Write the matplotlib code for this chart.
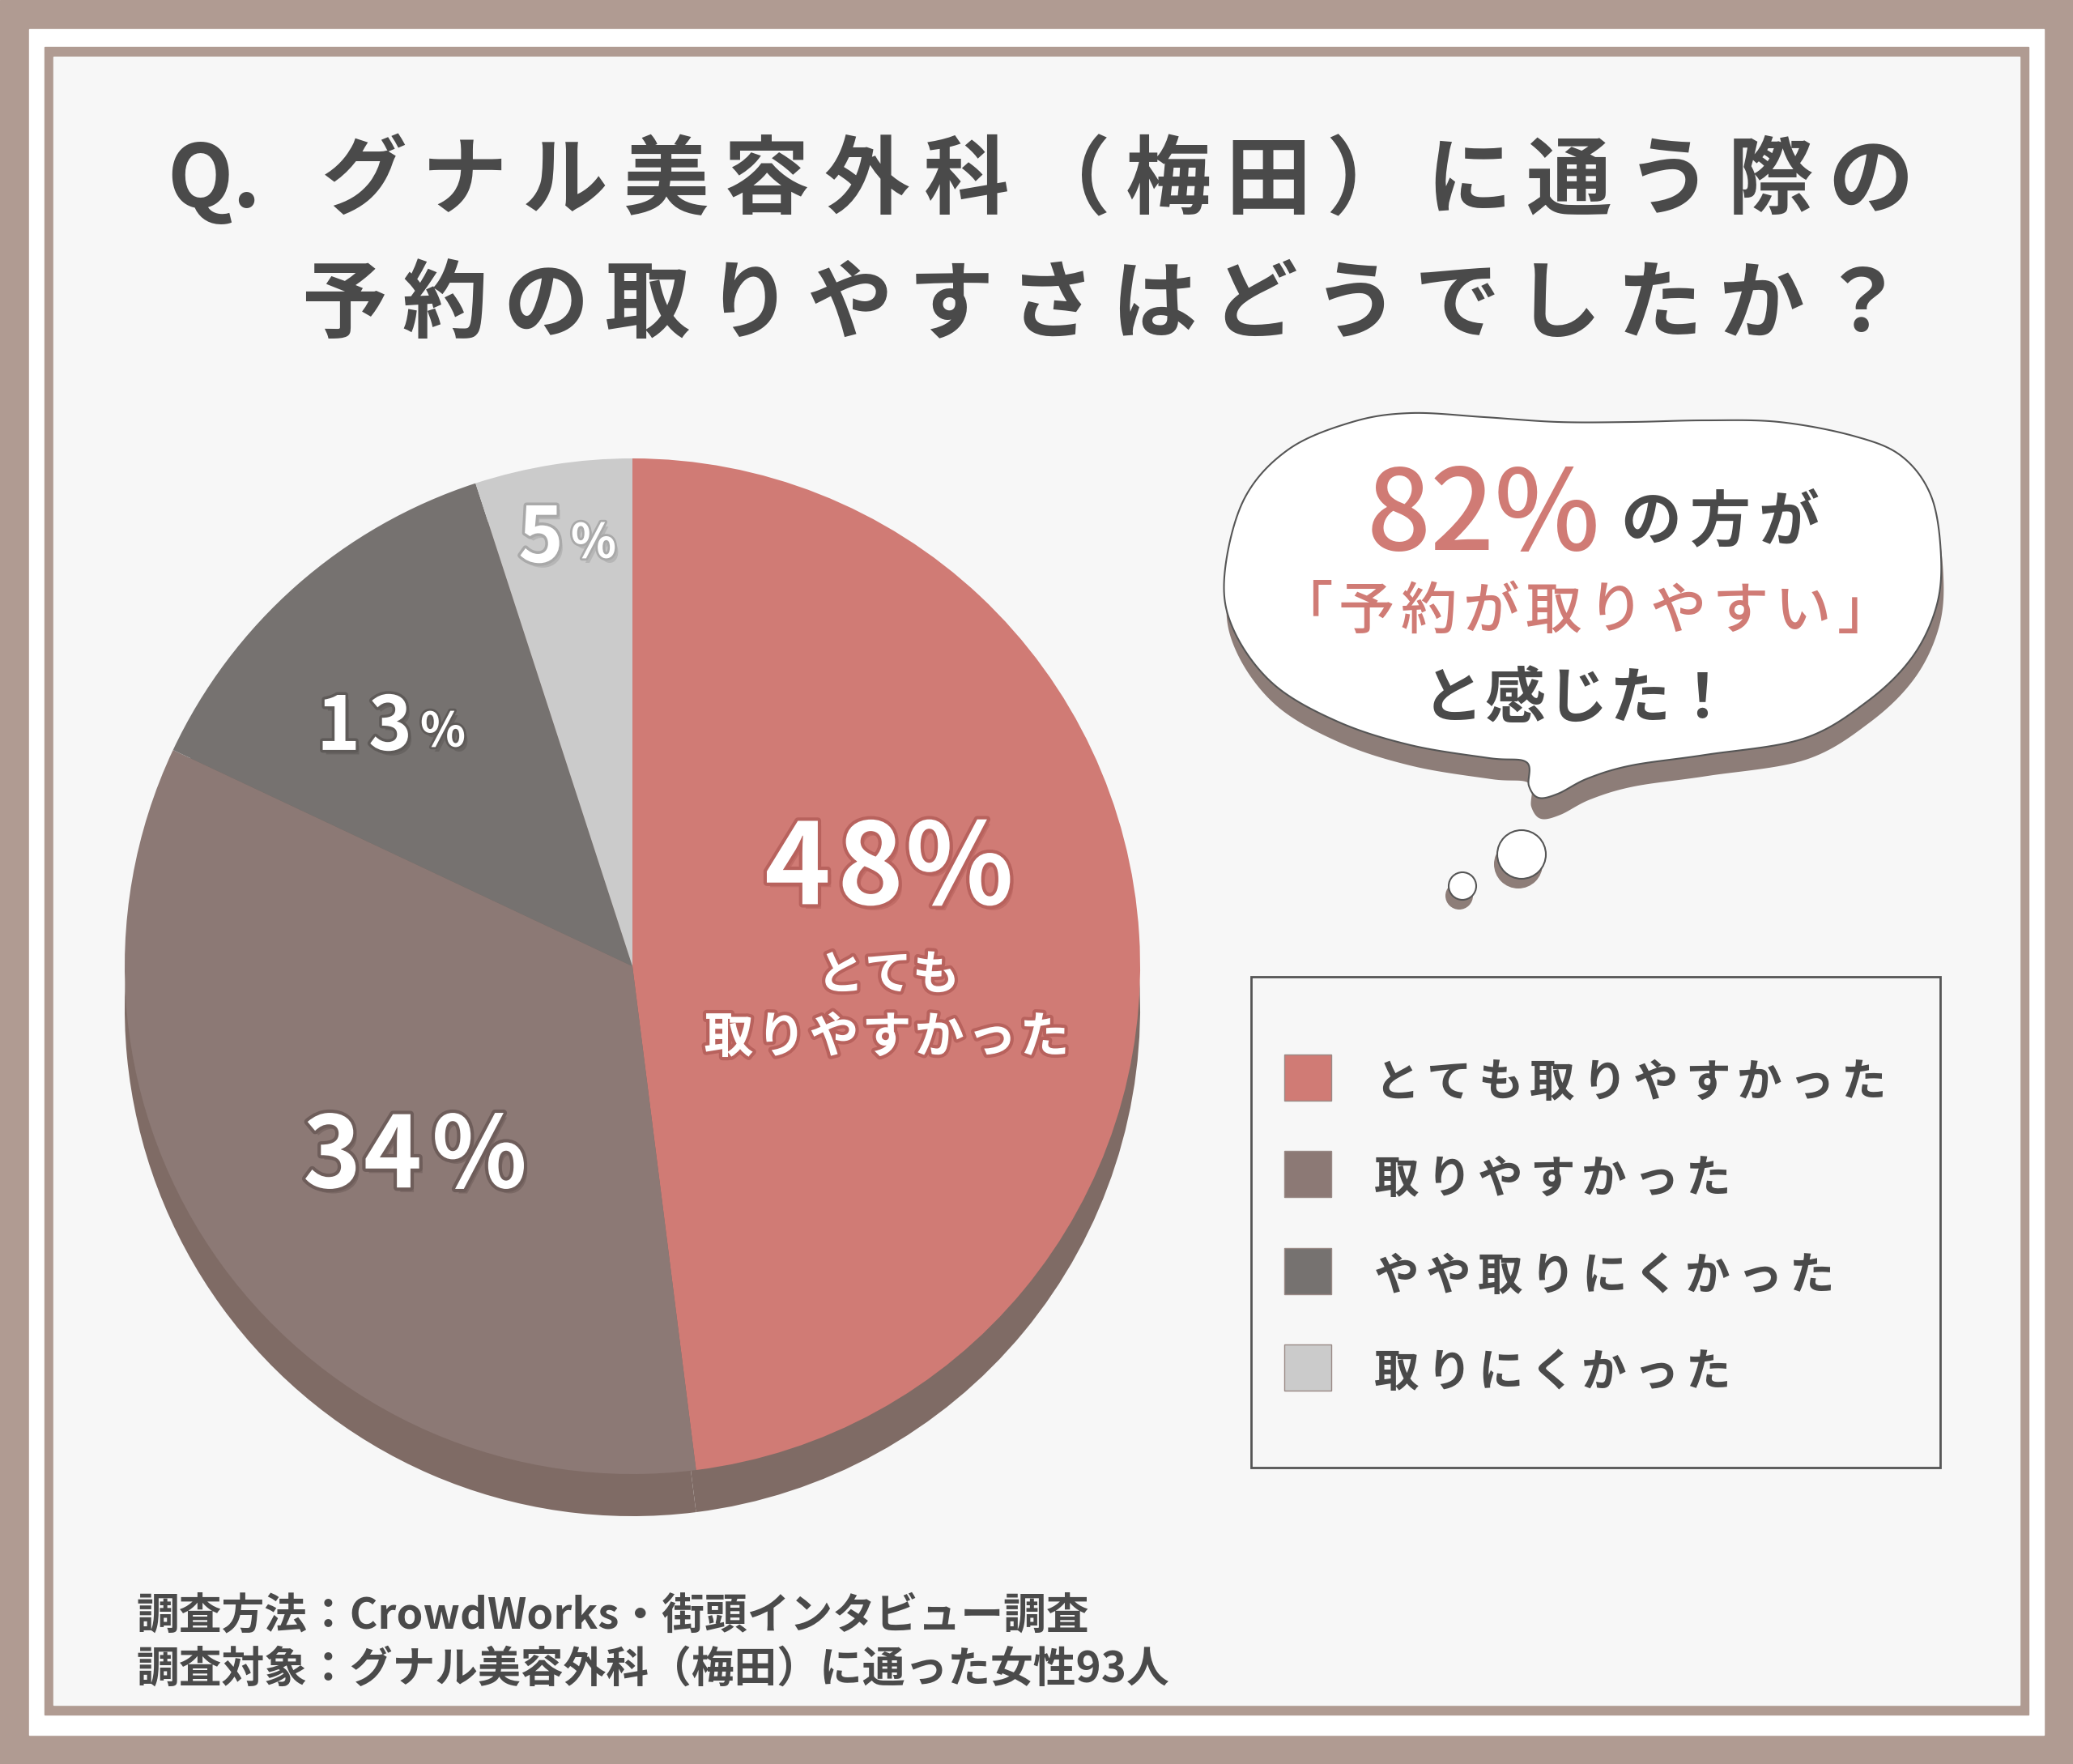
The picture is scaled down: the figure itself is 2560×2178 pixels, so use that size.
import unicodedata
import numpy as np
import matplotlib
matplotlib.use('Agg')
import matplotlib.pyplot as plt
import matplotlib.patheffects as pe
from matplotlib.patches import Rectangle, Polygon, Circle

plt.rcParams['font.family'] = ['Noto Sans CJK JP', 'DejaVu Sans']

# ---- data ----
categories = ['とても取りやすかった', '取りやすかった', 'やや取りにくかった', '取りにくかった']
percent = [48, 34, 13, 5]
colors = ['#d07b75', '#8c7975', '#767270', '#cbcbcb']
title_1 = 'グナル美容外科（梅田）に通う際の'
title_2 = '予約の取りやすさはどうでしたか？'
footer = ['調査方法：CrowdWorks・街頭インタビュー調査',
          '調査対象：グナル美容外科（梅田）に通った女性93人']

W, H, DPI = 2560, 2178, 100
DARK = '#4a4a4a'
BROWN = '#b09b92'
CORAL = colors[0]


def em(size):
    return size * DPI / 72.0


# 文字間隔つきのテキスト (y = 文字の中心)
def spaced(ax, x, y, s, size, pitch, ha='left', narrow=None, **kw):
    if narrow is None:
        narrow = pitch * 0.55
    widths = [pitch if unicodedata.east_asian_width(c) in 'WF' else narrow for c in s]
    total = sum(widths)
    if ha == 'center':
        x -= total / 2
    elif ha == 'right':
        x -= total
    yb = y + 0.37 * em(size)
    for c, w in zip(s, widths):
        ax.text(x + w / 2, yb, c, fontsize=size, ha='center', va='baseline', **kw)
        x += w


# Catmull-Rom で閉じた曲線
def smooth_closed(pts, n=16):
    P = np.array(pts, float)
    N = len(P)
    t = np.linspace(0, 1, n, endpoint=False)[:, None]
    out = []
    for i in range(N):
        p0, p1, p2, p3 = P[i - 1], P[i], P[(i + 1) % N], P[(i + 2) % N]
        out.append(0.5 * (2 * p1 + (-p0 + p2) * t + (2 * p0 - 5 * p1 + 4 * p2 - p3) * t ** 2
                          + (-p0 + 3 * p1 - 3 * p2 + p3) * t ** 3))
    return np.vstack(out)


fig = plt.figure(figsize=(W / DPI, H / DPI), dpi=DPI)

# ---- background / frame ----
bg = fig.add_axes([0, 0, 1, 1])
bg.set_xlim(0, W)
bg.set_ylim(H, 0)
bg.axis('off')
bg.add_patch(Rectangle((0, 0), W, H, color=BROWN))
bg.add_patch(Rectangle((36, 36), W - 72, H - 72, color='white'))
bg.add_patch(Rectangle((55, 58), W - 110, H - 58 - 61, color=BROWN))
bg.add_patch(Rectangle((66, 70), W - 132, H - 70 - 73, color='#f7f7f7'))

# ---- pie ----
cx, cy, r, depth = 781, 1193, 627, 52
half = 700
pa = fig.add_axes([(cx - half) / W, (H - cy - half) / H, 2 * half / W, 2 * half / H])
pa.patch.set_alpha(0)
pa.pie(percent, colors=['#7f6b65'] * 4, startangle=90, counterclock=False,
       center=(0, -depth / r), radius=1, wedgeprops=dict(linewidth=0))
pa.pie(percent, colors=colors, startangle=90, counterclock=False,
       radius=1, wedgeprops=dict(linewidth=0))
pa.set_xlim(-half / r, half / r)
pa.set_ylim(-half / r, half / r)
pa.set_aspect('auto')
pa.axis('off')

# ---- overlay ----
ax = fig.add_axes([0, 0, 1, 1])
ax.patch.set_alpha(0)
ax.set_xlim(0, W)
ax.set_ylim(H, 0)
ax.axis('off')

# title
ax.text(206, 217 + 0.37 * em(76), 'Q.', fontsize=76, fontweight='bold', color=DARK,
        ha='left', va='baseline')
spaced(ax, 2372, 217, title_1, 76, 124, ha='right', color=DARK, fontweight='bold')
spaced(ax, 2362, 370, title_2, 76, 125, ha='right', color=DARK, fontweight='bold')


# pie labels
def lab(x, y, s, size, stroke, lw=6):
    ax.text(x, y + 0.37 * em(size), s, fontsize=size, color='white', fontweight='bold',
            ha='center', va='baseline',
            path_effects=[pe.SimplePatchShadow(offset=(3, -4), shadow_rgbFace=stroke, alpha=0.6),
                          pe.withStroke(linewidth=lw, foreground=stroke)])


big = f'{percent[0]}'
lab(985, 1065, big[0], 100, '#b8625d')
lab(1075, 1065, big[1], 100, '#b8625d')
lab(1185, 1065, '%', 100, '#b8625d')
spaced(ax, 1097, 1200, 'とても', 42, 59, ha='center', color='white', fontweight='bold',
       path_effects=[pe.withStroke(linewidth=6, foreground='#b8625d')])
spaced(ax, 1095, 1277, '取りやすかった', 44, 65, ha='center', color='white', fontweight='bold',
       path_effects=[pe.withStroke(linewidth=6, foreground='#b8625d')])

mid = f'{percent[1]}'
lab(410, 1421, mid[0], 88, '#6e5d5a')
lab(485, 1421, mid[1], 88, '#6e5d5a')
lab(592, 1421, '%', 88, '#6e5d5a')

small = f'{percent[2]}'
lab(418, 892, small[0], 66, '#5e5a58', lw=5)
lab(482, 892, small[1], 66, '#5e5a58', lw=5)
lab(547, 900, '%', 42, '#5e5a58', lw=4)

lab(668, 659, f'{percent[3]}', 68, '#a9a9a9', lw=5)
lab(733, 667, '%', 42, '#a9a9a9', lw=4)

# speech bubble
bubble_pts = [(1742, 510), (1833, 515), (1924, 521), (2015, 521), (2106, 519), (2197, 521),
              (2288, 538), (2348, 563), (2385, 613), (2397, 687), (2391, 750), (2361, 812),
              (2306, 866), (2227, 912), (2106, 932), (2015, 945), (1961, 961), (1924, 980),
              (1900, 985), (1888, 970), (1885, 941), (1839, 936), (1742, 920), (1652, 891),
              (1573, 845), (1524, 779), (1512, 712), (1536, 617), (1591, 555), (1670, 521)]
curve = smooth_closed(bubble_pts)
ax.add_patch(Polygon(curve + [3, 26], closed=True, color='#8d7d78', lw=0))
ax.add_patch(Polygon(curve, closed=True, facecolor='white', edgecolor='#555555', lw=1.5))
for (bx, by, br) in [(1879, 1055, 30), (1806, 1094, 17)]:
    ax.add_patch(Circle((bx - 4, by + 12), br, color='#8d7d78', lw=0))
    ax.add_patch(Circle((bx, by), br, facecolor='white', edgecolor='#555555', lw=1.5))

ax.text(1832, 679, f'{percent[0] + percent[1]}%', fontsize=100, color=CORAL,
        fontweight='medium', ha='center', va='baseline')
spaced(ax, 2124, 640, 'の方が', 54, 85, ha='center', color=DARK, fontweight='bold')
spaced(ax, 1957, 750, '「予約が取りやすい」', 50, 77, ha='center', color=CORAL,
       fontweight='medium')
spaced(ax, 1948, 858, 'と感じた！', 54, 77, ha='center', color=DARK, fontweight='bold')

# legend
ax.add_patch(Rectangle((1545, 1206), 851, 606, facecolor='none', edgecolor='#555555', lw=2))
rows = [1330, 1449, 1569, 1688]
for cat, col, ry in zip(categories, colors, rows):
    ax.add_patch(Rectangle((1586, ry - 28), 58, 57, facecolor=col, edgecolor='#9a8a86', lw=1))
    spaced(ax, 1693, ry + 3, cat, 40, 64, ha='left', color=DARK, fontweight='bold')

# footer
ax.text(168, 1991 + 0.37 * em(38), footer[0], fontsize=38, fontweight='bold', color=DARK,
        ha='left', va='baseline')
ax.text(168, 2057 + 0.37 * em(38), footer[1], fontsize=38, fontweight='bold', color=DARK,
        ha='left', va='baseline')

fig.savefig('out.png', dpi=DPI)
